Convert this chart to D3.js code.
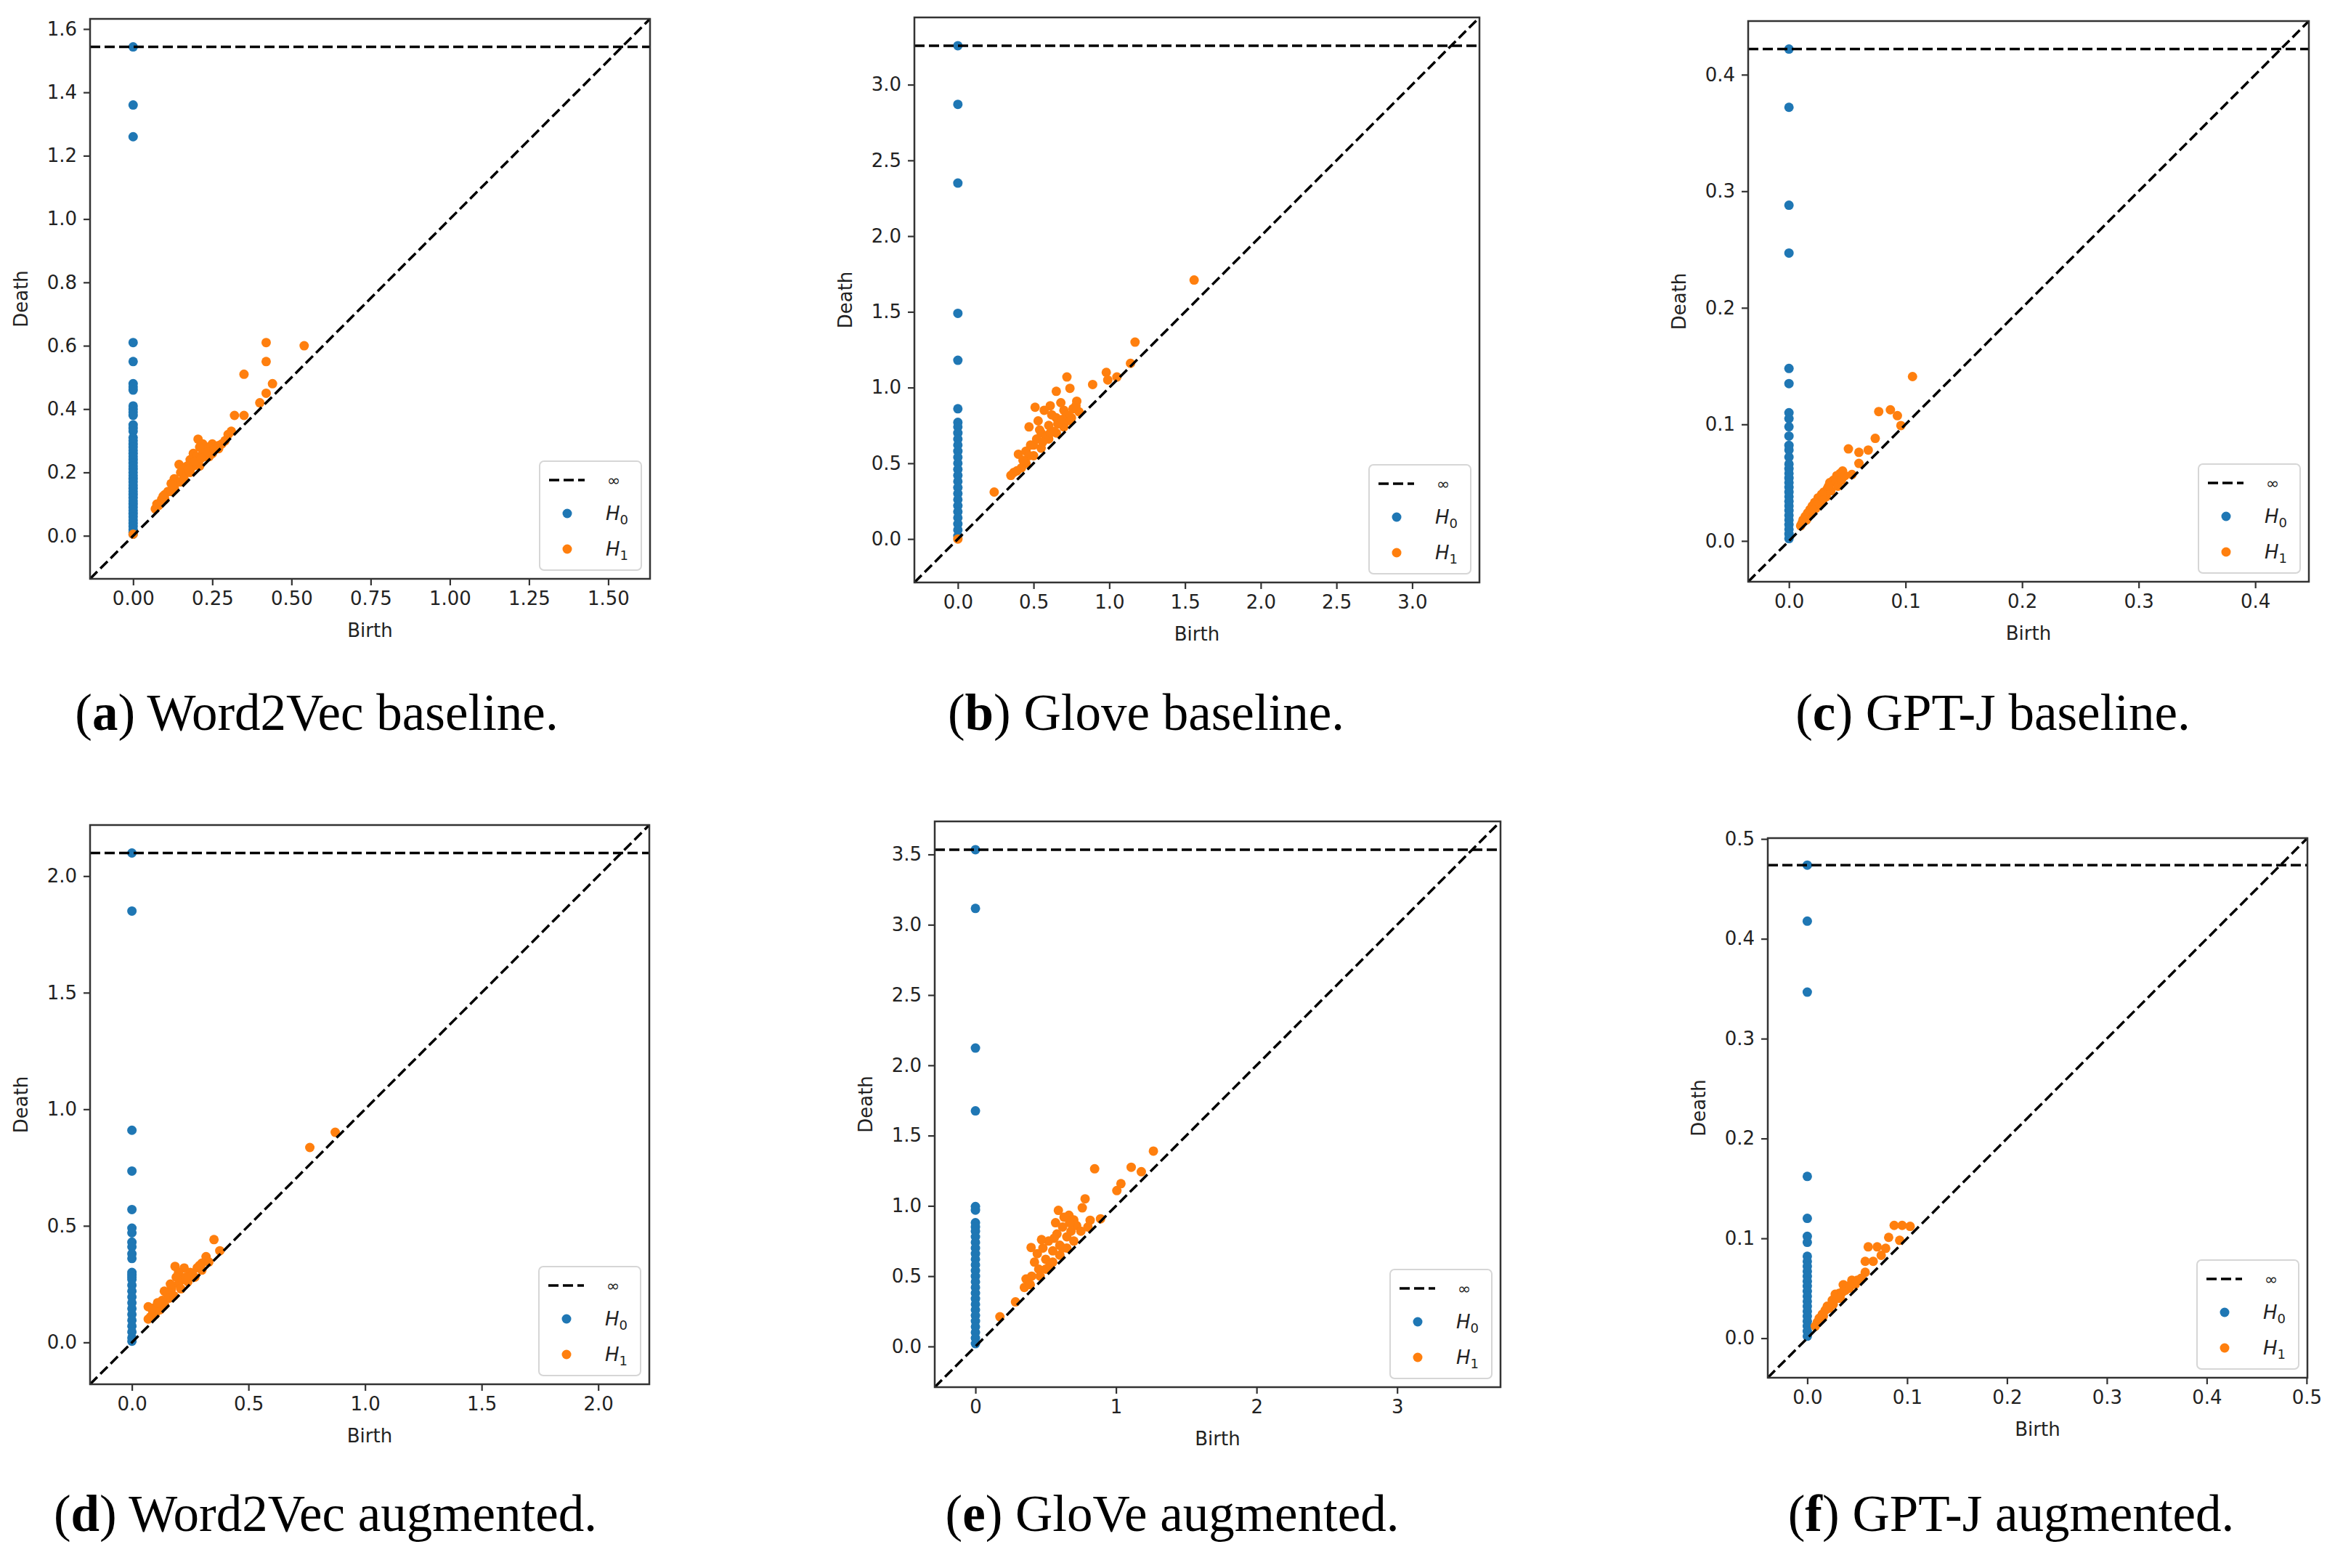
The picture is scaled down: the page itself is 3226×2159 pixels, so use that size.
<!DOCTYPE html>
<html>
<head>
<meta charset="utf-8">
<script src="https://cdn.jsdelivr.net/npm/d3@7"></script>
<style>
  body { margin: 0; background: #fff; }
  svg { display: block; }
</style>
</head>
<body>
<svg id="fig" width="3226" height="2159"></svg>
<script>
// ---- data (birth 0 for every H0 point; Infinity = never dies) ----
const w2vBaseH0 = [Infinity, 1.36, 1.26, 0.61, 0.55, 0.48, 0.47, 0.46, 0.41, 0.40, 0.39, 0.38, 0.35, 0.34, 0.33,
  0.31, 0.30, 0.29, 0.28, 0.27, 0.26, 0.25, 0.24, 0.23, 0.22, 0.21, 0.20, 0.19, 0.18, 0.17, 0.16, 0.15, 0.14,
  0.13, 0.12, 0.11, 0.10, 0.09, 0.08, 0.07, 0.06, 0.05, 0.04, 0.03, 0.02, 0.01, 0.005];
const w2vBaseH1 = [[0.0, 0.005], [0.42, 0.61], [0.42, 0.55], [0.54, 0.60], [0.35, 0.51], [0.44, 0.48], [0.42, 0.45],
  [0.40, 0.42], [0.32, 0.38], [0.35, 0.38], [0.30, 0.32], [0.28, 0.29], [0.31, 0.33], [0.205, 0.305], [0.22, 0.29],
  [0.25, 0.29], [0.24, 0.28], [0.21, 0.28], [0.23, 0.27], [0.26, 0.28], [0.27, 0.285], [0.19, 0.26], [0.2, 0.25],
  [0.22, 0.26], [0.18, 0.24], [0.17, 0.22], [0.145, 0.225], [0.16, 0.21], [0.15, 0.2], [0.17, 0.2], [0.19, 0.22],
  [0.2, 0.23], [0.23, 0.25], [0.25, 0.26], [0.13, 0.18], [0.12, 0.165], [0.14, 0.17], [0.11, 0.14], [0.1, 0.13],
  [0.12, 0.14], [0.09, 0.115], [0.075, 0.1], [0.08, 0.095], [0.07, 0.085], [0.1, 0.115], [0.13, 0.15], [0.15, 0.17],
  [0.16, 0.18], [0.18, 0.2], [0.21, 0.22], [0.24, 0.25], [0.27, 0.275], [0.29, 0.3], [0.095, 0.125], [0.125, 0.16],
  [0.175, 0.21], [0.195, 0.235], [0.215, 0.245], [0.235, 0.265], [0.255, 0.27]];

const gloveBaseH0 = [Infinity, 2.87, 2.35, 1.49, 1.18, 0.86, 0.77, 0.74, 0.70, 0.66, 0.62, 0.58, 0.54, 0.50, 0.46,
  0.42, 0.38, 0.34, 0.30, 0.26, 0.22, 0.18, 0.14, 0.10, 0.06, 0.02];
const gloveBaseH1 = [[0.0, 0.0], [1.56, 1.71], [1.17, 1.30], [1.14, 1.16], [0.98, 1.10], [1.05, 1.07], [0.89, 1.02],
  [0.99, 1.05], [0.72, 1.07], [0.785, 0.91], [0.74, 0.995], [0.65, 0.975], [0.61, 0.88], [0.51, 0.87], [0.47, 0.74],
  [0.40, 0.56], [0.24, 0.31], [0.35, 0.42], [0.37, 0.44], [0.42, 0.47], [0.45, 0.5], [0.5, 0.55], [0.55, 0.6],
  [0.6, 0.66], [0.65, 0.7], [0.7, 0.74], [0.75, 0.8], [0.8, 0.84], [0.5, 0.62], [0.55, 0.7], [0.6, 0.75], [0.65, 0.8],
  [0.7, 0.85], [0.68, 0.9], [0.62, 0.82], [0.58, 0.68], [0.53, 0.78], [0.48, 0.62], [0.45, 0.58], [0.52, 0.66],
  [0.66, 0.76], [0.72, 0.82], [0.76, 0.86], [0.57, 0.85], [0.54, 0.72], [0.47, 0.55], [0.63, 0.71], [0.69, 0.79],
  [0.74, 0.78], [0.78, 0.88], [0.43, 0.52], [0.39, 0.45], [0.56, 0.64], [0.61, 0.7]];

const gptjBaseH0 = [Infinity, 0.372, 0.288, 0.247, 0.148, 0.135, 0.11, 0.105, 0.098, 0.09, 0.082, 0.078, 0.072,
  0.066, 0.062, 0.058, 0.054, 0.05, 0.046, 0.042, 0.038, 0.034, 0.03, 0.026, 0.022, 0.018, 0.014, 0.01, 0.006, 0.002];
const gptjBaseH1 = [[0.106, 0.141], [0.077, 0.111], [0.087, 0.1125], [0.093, 0.1075], [0.096, 0.099], [0.074, 0.088],
  [0.051, 0.079], [0.06, 0.076], [0.068, 0.078], [0.06, 0.0665], [0.054, 0.057], [0.044, 0.058], [0.046, 0.06],
  [0.041, 0.056], [0.038, 0.052], [0.035, 0.05], [0.04, 0.05], [0.042, 0.047], [0.033, 0.045], [0.03, 0.042],
  [0.032, 0.038], [0.028, 0.04], [0.025, 0.037], [0.027, 0.033], [0.022, 0.033], [0.02, 0.03], [0.023, 0.028],
  [0.018, 0.027], [0.016, 0.024], [0.019, 0.023], [0.014, 0.021], [0.012, 0.018], [0.015, 0.018], [0.011, 0.015],
  [0.01, 0.013], [0.036, 0.043], [0.045, 0.052], [0.048, 0.056], [0.029, 0.035], [0.034, 0.047], [0.024, 0.031],
  [0.021, 0.026]];

const w2vAugH0 = [Infinity, 1.85, 0.91, 0.735, 0.57, 0.49, 0.47, 0.43, 0.41, 0.38, 0.36, 0.30, 0.29, 0.28, 0.27,
  0.245, 0.22, 0.195, 0.17, 0.145, 0.12, 0.095, 0.07, 0.045, 0.02, 0.005];
const w2vAugH1 = [[0.763, 0.836], [0.872, 0.901], [0.352, 0.441], [0.377, 0.393], [0.318, 0.368], [0.185, 0.326],
  [0.224, 0.319], [0.139, 0.22], [0.07, 0.153], [0.2, 0.3], [0.19, 0.28], [0.25, 0.3], [0.3, 0.34], [0.28, 0.32],
  [0.26, 0.29], [0.22, 0.27], [0.2, 0.25], [0.17, 0.23], [0.15, 0.21], [0.16, 0.19], [0.13, 0.18], [0.12, 0.16],
  [0.1, 0.15], [0.09, 0.13], [0.08, 0.11], [0.1, 0.12], [0.12, 0.14], [0.14, 0.16], [0.18, 0.2], [0.21, 0.23],
  [0.24, 0.26], [0.27, 0.28], [0.3, 0.31], [0.33, 0.345], [0.07, 0.1], [0.085, 0.145], [0.11, 0.17], [0.165, 0.25],
  [0.23, 0.28], [0.29, 0.33]];

const gloveAugH0 = [Infinity, 3.116, 2.123, 1.676, 0.995, 0.97, 0.88, 0.85, 0.82, 0.78, 0.74, 0.70, 0.66, 0.62,
  0.58, 0.54, 0.50, 0.46, 0.42, 0.38, 0.34, 0.30, 0.26, 0.22, 0.18, 0.14, 0.10, 0.06, 0.02];
const gloveAugH1 = [[1.266, 1.39], [0.848, 1.264], [1.108, 1.275], [1.18, 1.243], [1.035, 1.158], [1.006, 1.109],
  [0.78, 1.05], [0.76, 0.986], [0.59, 0.968], [0.665, 0.933], [0.89, 0.908], [0.816, 0.898], [0.57, 0.88],
  [0.396, 0.704], [0.174, 0.211], [0.285, 0.317], [0.348, 0.42], [0.36, 0.48], [0.4, 0.5], [0.42, 0.6], [0.45, 0.55],
  [0.48, 0.7], [0.5, 0.62], [0.52, 0.75], [0.55, 0.68], [0.58, 0.8], [0.6, 0.72], [0.62, 0.85], [0.65, 0.78],
  [0.68, 0.82], [0.7, 0.75], [0.72, 0.86], [0.75, 0.82], [0.5, 0.55], [0.55, 0.6], [0.6, 0.65], [0.65, 0.7],
  [0.44, 0.66], [0.47, 0.76], [0.53, 0.58], [0.62, 0.7], [0.7, 0.9], [0.46, 0.5], [0.39, 0.44], [0.56, 0.77],
  [0.63, 0.92], [0.8, 0.85], [0.67, 0.88]];

const gptjAugH0 = [Infinity, 0.4177, 0.3466, 0.162, 0.12, 0.102, 0.096, 0.082, 0.077, 0.072, 0.067, 0.062, 0.057,
  0.052, 0.047, 0.042, 0.037, 0.032, 0.027, 0.022, 0.017, 0.012, 0.007, 0.002];
const gptjAugH1 = [[0.087, 0.113], [0.095, 0.113], [0.103, 0.112], [0.0815, 0.101], [0.0925, 0.098], [0.061, 0.0915],
  [0.07, 0.0915], [0.0785, 0.09], [0.058, 0.077], [0.066, 0.077], [0.074, 0.083], [0.058, 0.066], [0.0446, 0.058],
  [0.036, 0.0535], [0.04, 0.052], [0.032, 0.045], [0.028, 0.044], [0.035, 0.046], [0.025, 0.038], [0.03, 0.04],
  [0.02, 0.032], [0.022, 0.03], [0.018, 0.028], [0.015, 0.024], [0.012, 0.02], [0.01, 0.016], [0.008, 0.012],
  [0.026, 0.034], [0.038, 0.048], [0.042, 0.05], [0.048, 0.054], [0.016, 0.022], [0.033, 0.04], [0.05, 0.058],
  [0.054, 0.06]];

// tick labels
const ticksA_x = [0, 0.25, 0.5, 0.75, 1.0, 1.25, 1.5];
const ticksA_y = [0, 0.2, 0.4, 0.6, 0.8, 1.0, 1.2, 1.4, 1.6];
const ticksB = [0, 0.5, 1.0, 1.5, 2.0, 2.5, 3.0];
const ticksC = [0, 0.1, 0.2, 0.3, 0.4];
const ticksD = [0, 0.5, 1.0, 1.5, 2.0];
const ticksE_x = [0, 1, 2, 3];
const ticksE_y = [0, 0.5, 1.0, 1.5, 2.0, 2.5, 3.0, 3.5];
const ticksF = [0, 0.1, 0.2, 0.3, 0.4, 0.5];

const captionLetters = ["a", "b", "c", "d", "e", "f"];
const captionTexts = ["Word2Vec baseline.", "Glove baseline.", "GPT-J baseline.",
  "Word2Vec augmented.", "GloVe augmented.", "GPT-J augmented."];

// ---- layout (pixel boxes of the axes, caption centre) ----
const layout = [
  { box: [124, 26, 895, 797], cap: [436, 1005] },
  { box: [1259, 24, 2037, 802], cap: [1578, 1005] },
  { box: [2407, 29, 3179, 801], cap: [2744, 1005] },
  { box: [124, 1136, 894, 1906], cap: [448, 2108] },
  { box: [1287, 1131, 2066, 1910], cap: [1614, 2108] },
  { box: [2434, 1154, 3177, 1897], cap: [2769, 2108] }
];

const panels = [
  { h0: w2vBaseH0, h1: w2vBaseH1, xt: ticksA_x, yt: ticksA_y, xf: ".2f", yf: ".1f" },
  { h0: gloveBaseH0, h1: gloveBaseH1, xt: ticksB, yt: ticksB, xf: ".1f", yf: ".1f" },
  { h0: gptjBaseH0, h1: gptjBaseH1, xt: ticksC, yt: ticksC, xf: ".1f", yf: ".1f" },
  { h0: w2vAugH0, h1: w2vAugH1, xt: ticksD, yt: ticksD, xf: ".1f", yf: ".1f" },
  { h0: gloveAugH0, h1: gloveAugH1, xt: ticksE_x, yt: ticksE_y, xf: "d", yf: ".1f" },
  { h0: gptjAugH0, h1: gptjAugH1, xt: ticksF, yt: ticksF, xf: ".1f", yf: ".1f" }
];

const blue = "#1f77b4", orange = "#ff7f0e";
const tickFont = 26;
const dotR = 6.5;
const svg = d3.select("#fig");

panels.forEach((p, i) => {
    const [x0, y0, x1, y1] = layout[i].box;
    const g = svg.append("g");

    // persim style limits: buffer from the largest finite value
    const finite = p.h0.filter(v => isFinite(v)).concat(p.h1.flat());
    const lo = d3.min(finite), hi = d3.max(finite);
    const buf = (hi - lo) / 5;
    const down = lo - buf / 2, up = hi + buf;
    const bInf = down + (up - down) * 0.95;

    const x = d3.scaleLinear().domain([down, up]).range([x0, x1]);
    const y = d3.scaleLinear().domain([down, up]).range([y1, y0]);

    // points first, the dashed lines sit above them
    g.append("g").selectAll("circle")
        .data(p.h0)
        .join("circle")
        .attr("cx", x(0))
        .attr("cy", d => isFinite(d) ? y(d) : y(bInf))
        .attr("r", dotR)
        .attr("fill", blue);

    g.append("g").selectAll("circle")
        .data(p.h1)
        .join("circle")
        .attr("cx", d => x(d[0]))
        .attr("cy", d => y(d[1]))
        .attr("r", dotR)
        .attr("fill", orange);

    g.append("line")
        .attr("x1", x(down)).attr("y1", y(down))
        .attr("x2", x(up)).attr("y2", y(up))
        .attr("stroke", "#000").attr("stroke-width", 3.5)
        .attr("stroke-dasharray", "14,6");

    g.append("line")
        .attr("x1", x(down)).attr("y1", y(bInf))
        .attr("x2", x(up)).attr("y2", y(bInf))
        .attr("stroke", "#000").attr("stroke-width", 3.5)
        .attr("stroke-dasharray", "14,6");

    // axes
    const xAxis = g.append("g")
        .attr("transform", `translate(0,${y1})`)
        .call(d3.axisBottom(x).tickValues(p.xt).tickFormat(d3.format(p.xf))
            .tickSize(9).tickPadding(9).tickSizeOuter(0));
    const yAxis = g.append("g")
        .attr("transform", `translate(${x0},0)`)
        .call(d3.axisLeft(y).tickValues(p.yt).tickFormat(d3.format(p.yf))
            .tickSize(9).tickPadding(9).tickSizeOuter(0));
    [xAxis, yAxis].forEach(a => {
        a.select(".domain").remove();
        a.selectAll(".tick line").attr("stroke", "#333").attr("stroke-width", 2.2);
        a.selectAll(".tick text")
            .attr("fill", "#222")
            .style("font", `${tickFont}px 'DejaVu Sans'`);
    });

    g.append("rect")
        .attr("x", x0).attr("y", y0)
        .attr("width", x1 - x0).attr("height", y1 - y0)
        .attr("fill", "none")
        .attr("stroke", "#333").attr("stroke-width", 2.5);

    g.append("text")
        .attr("x", (x0 + x1) / 2).attr("y", y1 + 80)
        .attr("text-anchor", "middle")
        .attr("fill", "#222")
        .style("font", `${tickFont}px 'DejaVu Sans'`)
        .text("Birth");

    g.append("text")
        .attr("transform", `translate(${x0 - 86},${(y0 + y1) / 2}) rotate(-90)`)
        .attr("text-anchor", "middle")
        .attr("fill", "#222")
        .style("font", `${tickFont}px 'DejaVu Sans'`)
        .text("Death");

    // legend, lower right
    const lw = 140, lh = 150;
    const lx = x1 - 12 - lw, ly = y1 - 12 - lh;
    const leg = g.append("g").attr("transform", `translate(${lx},${ly})`);
    leg.append("rect")
        .attr("width", lw).attr("height", lh).attr("rx", 6)
        .attr("fill", "#fff").attr("fill-opacity", 0.8)
        .attr("stroke", "#d6d6d6").attr("stroke-width", 2);
    leg.append("line")
        .attr("x1", 13).attr("x2", 62).attr("y1", 26).attr("y2", 26)
        .attr("stroke", "#000").attr("stroke-width", 3.5)
        .attr("stroke-dasharray", "14,6");
    leg.append("text")
        .attr("x", 93).attr("y", 34)
        .attr("fill", "#222")
        .style("font", "22px 'DejaVu Sans'")
        .text("∞");
    [[blue, "0", 72], [orange, "1", 121]].forEach(([c, sub, yy]) => {
        leg.append("circle").attr("cx", 38).attr("cy", yy).attr("r", dotR).attr("fill", c);
        const t = leg.append("text")
            .attr("x", 91).attr("y", yy + 9)
            .attr("fill", "#222")
            .style("font", `${tickFont}px 'DejaVu Sans'`);
        t.append("tspan").style("font-style", "italic").text("H");
        t.append("tspan").attr("dy", 6).style("font-size", "18px").text(sub);
    });

    // caption
    const [cx, cy] = layout[i].cap;
    const cap = svg.append("text")
        .attr("x", cx).attr("y", cy)
        .attr("text-anchor", "middle")
        .attr("fill", "#000")
        .style("font", "71px 'Liberation Serif'");
    cap.append("tspan").text("(");
    cap.append("tspan").style("font-weight", "bold").text(captionLetters[i]);
    cap.append("tspan").text(") " + captionTexts[i]);
});
</script>
</body>
</html>
